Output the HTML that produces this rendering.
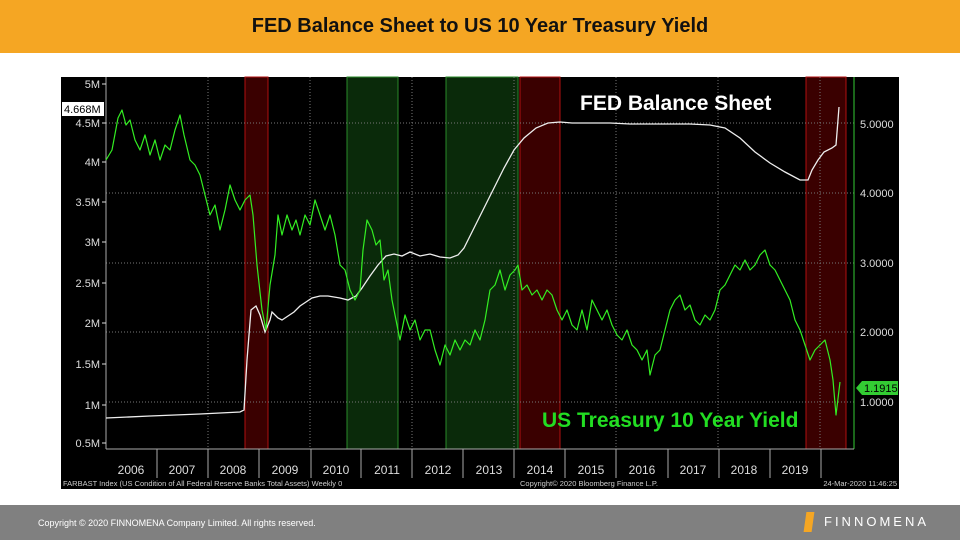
<!DOCTYPE html>
<html><head><meta charset="utf-8"><style>
body{margin:0;width:960px;height:540px;background:#fff;position:relative;overflow:hidden;font-family:"Liberation Sans",sans-serif}
.hdr{position:absolute;left:0;top:0;width:960px;height:53px;background:#f5a623;text-align:center;line-height:53px;font-weight:bold;font-size:20px;color:#111}
.ftr{position:absolute;left:0;top:505px;width:960px;height:35px;background:#808080}
</style></head><body>
<div class="hdr">FED Balance Sheet to US 10 Year Treasury Yield</div>
<svg style="position:absolute;left:0;top:0" width="960" height="540" font-family="Liberation Sans, sans-serif">
<rect x="61" y="77" width="838" height="412" fill="#000"/>
<rect x="245" y="77" width="23" height="372" fill="#3a0000" stroke="#b01010"/>
<rect x="347" y="77" width="51" height="372" fill="#0a2a0a" stroke="#2a8a2a"/>
<rect x="446" y="77" width="72" height="372" fill="#0a2a0a" stroke="#2a8a2a"/>
<rect x="520" y="77" width="40" height="372" fill="#3a0000" stroke="#b01010"/>
<rect x="806" y="77" width="40" height="372" fill="#3a0000" stroke="#b01010"/>
<g stroke="#777" stroke-dasharray="1,2" stroke-width="1">
<line x1="106" x2="854" y1="123" y2="123"/><line x1="106" x2="854" y1="193" y2="193"/>
<line x1="106" x2="854" y1="263" y2="263"/><line x1="106" x2="854" y1="332" y2="332"/>
<line x1="106" x2="854" y1="402" y2="402"/>
<line x1="208" x2="208" y1="77" y2="449"/><line x1="310" x2="310" y1="77" y2="449"/>
<line x1="412" x2="412" y1="77" y2="449"/><line x1="514" x2="514" y1="77" y2="449"/>
<line x1="616" x2="616" y1="77" y2="449"/><line x1="718" x2="718" y1="77" y2="449"/>
<line x1="820" x2="820" y1="77" y2="449"/>
</g>
<line x1="106" y1="77" x2="106" y2="449" stroke="#aaa"/>
<line x1="854" y1="77" x2="854" y2="449" stroke="#3c3"/>
<line x1="106" y1="449" x2="854" y2="449" stroke="#aaa"/>
<g fill="#ddd" font-size="11" text-anchor="end">
<text x="100" y="88">5M</text><text x="100" y="127">4.5M</text><text x="100" y="166">4M</text>
<text x="100" y="206">3.5M</text><text x="100" y="246">3M</text><text x="100" y="287">2.5M</text>
<text x="100" y="327">2M</text><text x="100" y="368">1.5M</text><text x="100" y="409">1M</text><text x="100" y="447">0.5M</text>
</g>
<g stroke="#ddd"><line x1="102" x2="106" y1="84" y2="84"/><line x1="102" x2="106" y1="123" y2="123"/><line x1="102" x2="106" y1="162" y2="162"/><line x1="102" x2="106" y1="202" y2="202"/><line x1="102" x2="106" y1="242" y2="242"/><line x1="102" x2="106" y1="283" y2="283"/><line x1="102" x2="106" y1="323" y2="323"/><line x1="102" x2="106" y1="364" y2="364"/><line x1="102" x2="106" y1="405" y2="405"/><line x1="102" x2="106" y1="443" y2="443"/></g>
<g fill="#ddd" font-size="11">
<text x="860" y="128">5.0000</text><text x="860" y="197">4.0000</text><text x="860" y="267">3.0000</text>
<text x="860" y="336">2.0000</text><text x="860" y="406">1.0000</text>
</g>
<rect x="62" y="102" width="42" height="14" fill="#fff"/>
<text x="64" y="113" font-size="11" fill="#000">4.668M</text>
<polygon points="856,388 862,381 898,381 898,395 862,395" fill="#3c3"/>
<text x="864" y="392" font-size="11" fill="#000">1.1915</text>
<g fill="#ddd" font-size="12" text-anchor="middle">
<text x="131" y="474">2006</text><text x="182" y="474">2007</text><text x="233" y="474">2008</text><text x="285" y="474">2009</text>
<text x="336" y="474">2010</text><text x="387" y="474">2011</text><text x="438" y="474">2012</text><text x="489" y="474">2013</text>
<text x="540" y="474">2014</text><text x="591" y="474">2015</text><text x="642" y="474">2016</text><text x="693" y="474">2017</text>
<text x="744" y="474">2018</text><text x="795" y="474">2019</text>
</g>
<g stroke="#aaa"><line x1="157" x2="157" y1="449" y2="478"/><line x1="208" x2="208" y1="449" y2="478"/><line x1="259" x2="259" y1="449" y2="478"/><line x1="311" x2="311" y1="449" y2="478"/><line x1="361" x2="361" y1="449" y2="478"/><line x1="412" x2="412" y1="449" y2="478"/><line x1="463" x2="463" y1="449" y2="478"/><line x1="514" x2="514" y1="449" y2="478"/><line x1="565" x2="565" y1="449" y2="478"/><line x1="616" x2="616" y1="449" y2="478"/><line x1="668" x2="668" y1="449" y2="478"/><line x1="719" x2="719" y1="449" y2="478"/><line x1="770" x2="770" y1="449" y2="478"/><line x1="821" x2="821" y1="449" y2="478"/></g>
<g fill="#ccc" font-size="7.5"><text x="63" y="486">FARBAST Index (US Condition of All Federal Reserve Banks Total Assets)  Weekly 0</text>
<text x="520" y="486">Copyright© 2020 Bloomberg Finance L.P.</text>
<text x="897" y="486" text-anchor="end">24-Mar-2020 11:46:25</text></g>
<polyline fill="none" stroke="#eee" stroke-width="1.3" points="106,418 150,416 200,414 240,412 244,410 247,360 251,310 256,306 260,315 265,332 270,320 272,312 278,318 282,320 288,316 294,312 300,306 306,302 312,298 320,296 328,296 340,298 348,300 356,296 362,288 370,276 378,265 386,256 394,254 402,256 410,252 420,256 430,254 440,257 450,258 458,255 464,248 474,228 484,208 494,188 504,168 514,150 524,138 536,128 548,123 560,122 572,123 590,123 610,123 630,124 650,124 670,124 690,124 710,125 725,128 740,138 755,152 770,163 785,172 800,180 808,180 812,170 818,160 824,152 832,148 836,145 838,120 839,107"/>
<polyline fill="none" stroke="#33ee22" stroke-width="1.2" stroke-linejoin="round" points="106,160 112,150 118,118 122,110 126,125 130,120 135,140 140,150 145,135 150,155 155,140 160,160 165,145 170,150 175,130 180,115 184,135 190,160 195,165 200,175 205,195 210,215 215,205 220,230 225,210 230,185 235,200 240,210 245,200 250,195 253,215 257,265 262,310 266,330 270,285 275,255 278,215 282,235 287,215 292,230 296,220 300,235 305,215 310,225 315,200 320,215 325,230 330,215 335,235 340,265 345,270 350,290 355,300 360,290 363,250 367,220 372,230 376,245 380,240 384,280 388,270 392,300 396,320 400,340 405,315 410,330 415,320 420,340 425,330 430,330 435,350 440,365 445,345 450,355 455,340 460,350 465,340 470,345 475,330 480,340 485,320 490,290 495,285 500,270 505,290 510,275 515,270 518,265 522,290 527,285 532,295 537,290 542,300 547,290 552,295 557,310 562,320 567,310 572,325 577,330 582,310 587,330 592,300 597,310 602,320 607,310 612,325 617,335 622,340 627,330 632,345 637,350 642,360 647,350 650,375 655,355 660,350 665,330 670,310 675,300 680,295 685,310 690,305 695,320 700,325 705,315 710,320 715,310 720,290 725,285 730,275 735,265 740,270 745,260 750,270 755,265 760,255 765,250 770,265 775,270 780,280 785,290 790,300 795,320 800,330 805,345 810,360 815,350 820,345 825,340 830,360 833,380 836,415 840,382"/>
<text x="580" y="110" fill="#fff" font-size="21" font-weight="bold">FED Balance Sheet</text>
<text x="542" y="427" fill="#22dd22" font-size="21" font-weight="bold">US Treasury 10 Year Yield</text>
</svg>
<div class="ftr">
<div style="position:absolute;left:38px;top:13px;font-size:9px;color:#fff">Copyright © 2020 FINNOMENA Company Limited. All rights reserved.</div>
<div style="position:absolute;left:805px;top:7px;width:8px;height:20px;background:#f5a623;transform:skewX(-8deg)"></div>
<div style="position:absolute;left:824px;top:9px;font-size:13px;color:#fff;letter-spacing:3px">FINNOMENA</div>
</div>
</body></html>
